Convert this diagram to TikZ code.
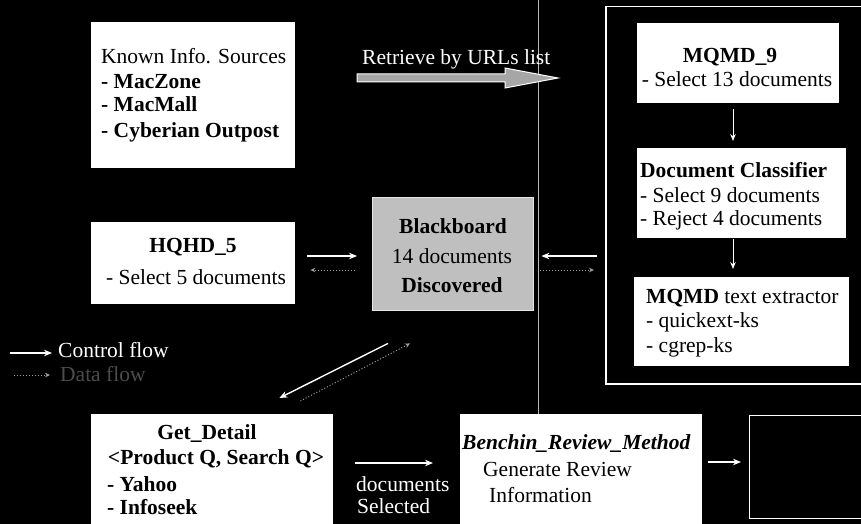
\documentclass[tikz,border=0pt]{standalone}
\usepackage{fontspec}
\setmainfont{Liberation Serif}
\usetikzlibrary{arrows.meta}
\begin{document}
\begin{tikzpicture}[x=1pt, y=-1pt,
  every node/.style={inner sep=0pt, font=\fontsize{21.5}{24}\selectfont},
  box/.style={fill=white, anchor=north west},
  tl/.style={anchor=base west},
  tcen/.style={anchor=base},
  ctrl/.style={draw=white, line width=1.4pt, -{Stealth[length=8pt,width=6.5pt]}},
  thinctrl/.style={draw=white, line width=1pt, -{Stealth[length=7pt,width=5.5pt]}},
  dataflow/.style={draw=gray!75, line width=1pt, dash pattern=on 1pt off 2pt, -{Stealth[length=5pt,width=4.5pt]}},
]
% background and page size
\fill[black] (0,0) rectangle (861,524);
\useasboundingbox (0,0) rectangle (861,524);

% fold line of the page
\draw[gray!55, line width=0.5pt] (538,0) -- (538,415);

% helper rows for horizontal connectors
\coordinate (rowctrl) at (0,256);
\coordinate (rowdata) at (0,270);
\coordinate (rowlow) at (0,463);
\coordinate (rowout) at (0,462);

% ---------- boxes ----------
\node[box, minimum width=204pt, minimum height=146pt] (known) at (91,22) {};
\node[box, minimum width=204pt, minimum height=82pt] (hqhd) at (91,222) {};
\node[draw=white, line width=1.5pt, anchor=north west, minimum width=300pt, minimum height=377pt] (grp) at (605,6) {};
\node[box, minimum width=202pt, minimum height=80pt] (mq9) at (637,23) {};
\node[box, minimum width=209pt, minimum height=90pt] (cls) at (637,148) {};
\node[box, minimum width=215pt, minimum height=89pt] (ext) at (634,277) {};
\node[box, fill=black!25, draw=black!10, minimum width=161pt, minimum height=113pt] (bb) at (372,197) {};
\node[box, minimum width=242pt, minimum height=116pt] (getd) at (91,414) {};
\node[box, minimum width=242pt, minimum height=116pt] (bench) at (460,414) {};
\node[draw=white, line width=1.2pt, fill=black, anchor=north west, minimum width=160pt, minimum height=103pt] (outbox) at (749,415) {};

% ---------- texts ----------
\node[tl] (k1) at (101,64) {Known Info. Sources};
\node[tl] (k2) at (101,89) {\textbf{- MacZone}};
\node[tl] (k3) at (101,112) {\textbf{- MacMall}};
\node[tl] (k4) at (101,137) {\textbf{- Cyberian Outpost}};

\node[tcen] (h1) at (193,252) {\textbf{HQHD\_5}};
\node[tcen] (h2) at (196,284) {- Select 5 documents};

\node[tcen] (m1) at (730,63) {\textbf{MQMD\_9}};
\node[tcen] (m2) at (737,87) {- Select 13 documents};

\node[tl] (c1) at (640,177) {\textbf{Document Classifier}};
\node[tl] (c2) at (640,202) {- Select 9 documents};
\node[tl] (c3) at (640,225) {- Reject 4 documents};

\node[tl] (e1) at (646,303) {\textbf{MQMD} text extractor};
\node[tl] (e2) at (646,327) {- quickext-ks};
\node[tl] (e3) at (646,352) {- cgrep-ks};

\node[tcen] (b1) at (453,233) {\textbf{Blackboard}};
\node[tcen] (b2) at (452,263) {14 documents};
\node[tcen] (b3) at (452,292) {\textbf{Discovered}};

\node[tcen] (g1) at (207,439) {\textbf{Get\_Detail}};
\node[tcen] (g2) at (216,464) {\textbf{<Product Q, Search Q>}};
\node[tl] (g3) at (107,491) {\textbf{- Yahoo}};
\node[tl] (g4) at (107,514) {\textbf{- Infoseek}};

\node[tl] (r1) at (462,449) {\textbf{\textit{Benchin\_Review\_Method}}};
\node[tl] (r2) at (483,476) {Generate Review};
\node[tl] (r3) at (489,502) {Information};

\node[tl, text=white] (sel1) at (356,491) {documents};
\node[tl, text=white] (sel2) at (357,513) {Selected};

% ---------- retrieve arrow ----------
\node[tl, text=white] (rtxt) at (362,65) {Retrieve by URLs list};
\draw[white, line width=1pt, fill=black!35]
  (357,74) -- (505,74) -- (505,68) -- (558,78) -- (505,88) -- (505,82) -- (357,82) -- cycle;

% ---------- connectors ----------
\draw[thinctrl, shorten <=6pt, shorten >=7pt] (mq9.south -| 733,0) -- (cls.north -| 733,0);
\draw[thinctrl, shorten <=1pt, shorten >=8pt] (cls.south -| 733,0) -- (ext.north -| 733,0);

\draw[ctrl, shorten <=12pt, shorten >=15pt] (hqhd.east |- rowctrl) -- (bb.west |- rowctrl);
\draw[dataflow, shorten <=17pt, shorten >=15pt] (bb.west |- rowdata) -- (hqhd.east |- rowdata);

\draw[ctrl, shorten <=8pt, shorten >=8pt] (grp.west |- rowctrl) -- (bb.east |- rowctrl);
\draw[dataflow, shorten <=7pt, shorten >=11pt] (bb.east |- rowdata) -- (grp.west |- rowdata);

\draw[ctrl] ([shift={(16,33)}]bb.south west) -- ([shift={(-54,-16)}]getd.north east);
\draw[dataflow] ([shift={(-33,-13)}]getd.north east) -- ([shift={(38,33)}]bb.south west);

\draw[ctrl, shorten <=22pt, shorten >=27pt] (getd.east |- rowlow) -- (bench.west |- rowlow);
\draw[ctrl, shorten <=6pt, shorten >=8pt] (bench.east |- rowout) -- (outbox.west |- rowout);

% ---------- legend ----------
\node[tl, text=white] (lgc) at (58,357) {Control flow};
\node[tl, text=black!70] (lgd) at (60,381) {Data flow};
\coordinate (lgA) at (10,353);
\coordinate (lgB) at (14,375);
\draw[ctrl, shorten >=6pt] (lgA) -- (lgc.west |- lgA);
\draw[dataflow, shorten >=10pt] (lgB) -- (lgd.west |- lgB);
\end{tikzpicture}
\end{document}
